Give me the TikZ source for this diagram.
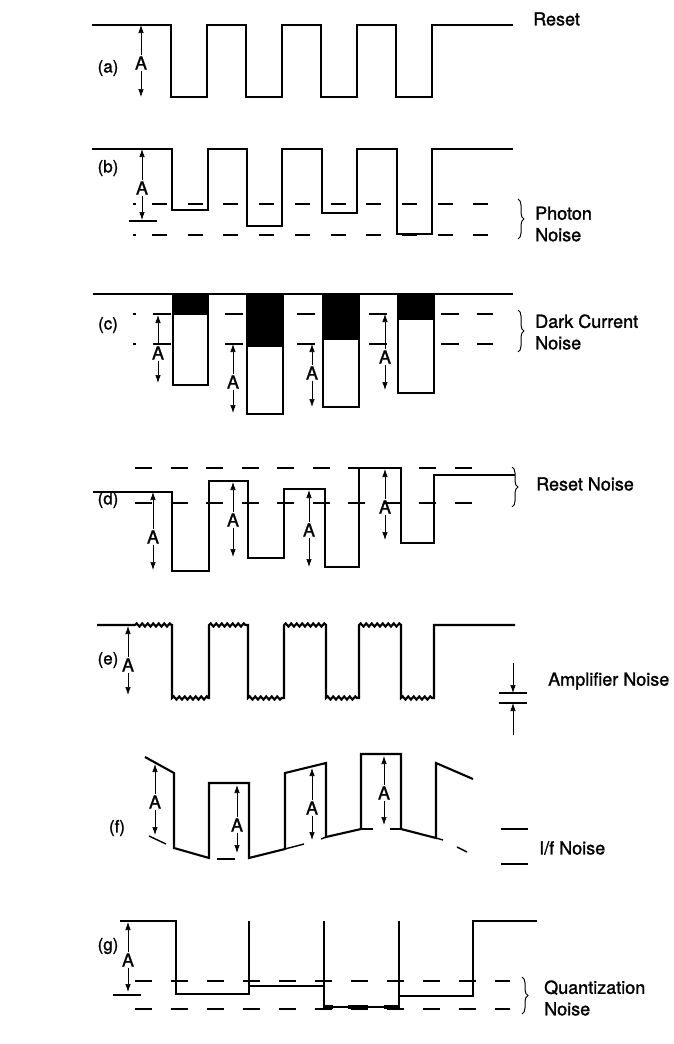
\documentclass[tikz,border=0pt]{standalone}
\usepackage{fontspec}
\setmainfont{TeX Gyre Heros}
\newfontfamily\hfont{TeX Gyre Heros}[FakeBold=1.3]
\usetikzlibrary{arrows.meta,decorations.pathmorphing,decorations.pathreplacing}
\newcommand\amark[5]{%
  \coordinate (#1t) at (#2,#3);
  \coordinate (#1b) at (#2,#4);
  \node[alab] (#1) at (#2,#5) {A};
  \draw[aarr] (#1.north) -- (#1t);
  \draw[aarr] (#1.south) -- (#1b);
}
\begin{document}
\begin{tikzpicture}[x=1pt,y=-1pt,
  sig/.style={line width=2.1pt, line join=miter},
  ref/.style={line width=1.4pt},
  alab/.style={inner sep=1pt, font=\hfont\fontsize{18}{19}\selectfont},
  aarr/.style={line width=0.7pt, -{Latex[length=8pt,width=5.5pt]}},
  txt/.style={anchor=west, align=left, inner sep=0pt, font=\hfont\fontsize{18}{21.5}\selectfont},
  plab/.style={inner sep=0pt, font=\hfont\fontsize{17}{18}\selectfont},
  brc/.style={line width=1pt, decorate, decoration={brace, amplitude=6pt}},
  wig/.style={decoration={snake, segment length=5.5pt, amplitude=1.6pt}},
  dsh/.style={ref, dash pattern=on 15pt off 20.7pt},
]
\useasboundingbox (0,0) rectangle (673,1044);
\fill[white] (0,0) rectangle (673,1044);

% ---------------- (a)
\node[plab] (la) at (108,68) {(a)};
\draw[sig] (92,25) -- (171,25) -- (171,97) -- (207,97) -- (207,25) -- (246,25) -- (246,97) -- (282,97) -- (282,25) -- (321,25) -- (321,97) -- (357,97) -- (357,25) -- (396,25) -- (396,97) -- (432,97) -- (432,25) -- (513,25);
\amark{aA}{141}{25}{97}{63}
\node[txt] (reset) at (533,19) {Reset};

% ---------------- (b)
\node[plab] (lb) at (108,168) {(b)};
\draw[ref] (133,204) -- (136,204);
\draw[dsh] (152,204) -- (493,204);
\draw[ref] (133,235) -- (136,235);
\draw[dsh] (152,235) -- (493,235);
\draw[sig] (92,149) -- (172,149) -- (172,210) -- (208,210) -- (208,149) -- (247,149) -- (247,226) -- (282,226) -- (282,149) -- (322,149) -- (322,213) -- (357,213) -- (357,149) -- (397,149) -- (397,234) -- (432,234) -- (432,149) -- (513,149);
\draw[ref] (129,221) -- (157,221);
\amark{bA}{142}{149}{220}{188}
\coordinate (bb1) at (518,199);
\coordinate (bb2) at (518,239);
\draw[brc] (bb1) -- (bb2);
\node[txt] (photon) at (535,224) {Photon\\Noise};

% ---------------- (c)
\node[plab] (lc) at (108,325) {(c)};
\draw[ref] (133,314) -- (136,314);
\draw[ref, dash pattern=on 18pt off 18pt] (153,314) -- (493,314);
\draw[ref] (133,344) -- (136,344);
\draw[ref, dash pattern=on 18pt off 18pt] (153,344) -- (493,344);
\foreach \xa/\xb/\yk/\yb in {173/208/315/385, 247/283/347/414, 323/359/340/407, 398/434/320/393}{
  \draw[sig, fill=white] (\xa,294) rectangle (\xb,\yb);
  \fill (\xa,294) rectangle (\xb,\yk);
}
\draw[sig] (93,294) -- (513,294);
\amark{cA1}{158}{315}{383}{353}
\amark{cA2}{233}{344}{413}{382}
\amark{cA3}{312}{344}{407}{373}
\amark{cA4}{385}{314}{390}{357}
\coordinate (cb1) at (518,310);
\coordinate (cb2) at (518,352);
\draw[brc] (cb1) -- (cb2);
\node[txt] (dark) at (535,332) {Dark Current\\Noise};

% ---------------- (d)
\node[plab] (ld) at (108,500) {(d)};
\draw[ref, dash pattern=on 17pt off 18.5pt] (135,468) -- (475,468);
\draw[ref, dash pattern=on 17pt off 18.5pt] (135,503) -- (475,503);
\draw[sig] (93,492) -- (172,492) -- (172,571) -- (209,571) -- (209,481) -- (248,481) -- (248,558) -- (284,558) -- (284,489) -- (325,489) -- (325,567) -- (359,567) -- (359,468) -- (401,468) -- (401,543) -- (434,543) -- (434,475) -- (515,475);
\amark{dA1}{153}{492}{570}{537}
\amark{dA2}{233}{482}{557}{520}
\amark{dA3}{309}{490}{567}{530}
\amark{dA4}{385}{469}{540}{507}
\coordinate (db1) at (512,467);
\coordinate (db2) at (512,507);
\draw[brc] (db1) -- (db2);
\node[txt] (rnoise) at (536,484) {Reset Noise};

% ---------------- (e)
\node[plab] (le) at (108,660) {(e)};
\draw[sig] (97,625) -- (135,625)
  decorate[wig]{-- (172,625)} -- (172,698) decorate[wig]{-- (209,698)}
  -- (209,625) decorate[wig]{-- (248,625)} -- (248,698) decorate[wig]{-- (284,698)}
  -- (284,625) decorate[wig]{-- (326,625)} -- (326,698) decorate[wig]{-- (359,698)}
  -- (359,625) decorate[wig]{-- (401,625)} -- (401,698) decorate[wig]{-- (434,698)}
  -- (434,625) -- (515,625);
\amark{eA}{128}{626}{695}{665}
\coordinate (e1l) at (499,693); \coordinate (e1r) at (527,693);
\coordinate (e2l) at (499,703); \coordinate (e2r) at (527,703);
\draw[ref] (e1l) -- (e1r);
\draw[ref] (e2l) -- (e2r);
\coordinate (eu) at (513,663); \coordinate (eut) at (513,693);
\coordinate (ed) at (513,735); \coordinate (edt) at (513,703);
\draw[aarr] (eu) -- (eut);
\draw[aarr] (ed) -- (edt);
\node[txt] (amp) at (548,681) {Amplifier Noise};

% ---------------- (f)
\node[plab] (lf) at (117,828) {(f)};
\draw[sig] (145,757) -- (174,773) -- (174,848) -- (209,858) -- (209,783) -- (249,783) -- (249,858) -- (285,849) -- (285,773) -- (326,763) -- (326,837) -- (361,829) -- (361,754) -- (401,754) -- (401,829) -- (436,838) -- (436,763) -- (473,779);
\draw[ref] (149,836) -- (166,844);
\draw[ref] (217,859) -- (235,859);
\draw[ref] (285,849) -- (304,844);
\draw[ref] (321,839) -- (326,837);
\draw[ref] (361,829) -- (373,829);
\draw[ref] (390,829) -- (401,829);
\draw[ref] (436,838) -- (443,840);
\draw[ref] (457,847) -- (467,852);
\amark{fA1}{155}{764}{835}{802}
\amark{fA2}{237}{785}{853}{825}
\amark{fA3}{312}{768}{840}{808}
\amark{fA4}{384}{756}{825}{793}
\draw[ref] (501,829) -- (528,829);
\draw[ref] (501,864) -- (528,864);
\node[txt] (onef) at (539,848) {I/f Noise};

% ---------------- (g)
\node[plab] (lg) at (108,946) {(g)};
\draw[ref, dash pattern=on 17pt off 19pt] (135,981) -- (510,981);
\draw[ref, dash pattern=on 17pt off 19pt] (135,1009) -- (510,1009);
\draw[sig] (120,921) -- (176,921) -- (176,994) -- (249,994) -- (249,986) -- (324,986) -- (324,1007) -- (399,1007) -- (399,996) -- (473,996) -- (473,921) -- (537,921);
\draw[sig] (249,921) -- (249,986);
\draw[sig] (324,921) -- (324,986);
\draw[sig] (399,921) -- (399,996);
\draw[line width=4pt] (325,1007) -- (333,1007);
\draw[line width=4pt] (348,1007) -- (368,1007);
\draw[line width=4pt] (384,1007) -- (398,1007);
\draw[ref] (113,995) -- (141,995);
\amark{gA}{128}{922}{992}{960}
\coordinate (gb1) at (522,977);
\coordinate (gb2) at (522,1014);
\draw[brc] (gb1) -- (gb2);
\node[txt] (quant) at (544,998) {Quantization\\Noise};
\end{tikzpicture}
\end{document}
